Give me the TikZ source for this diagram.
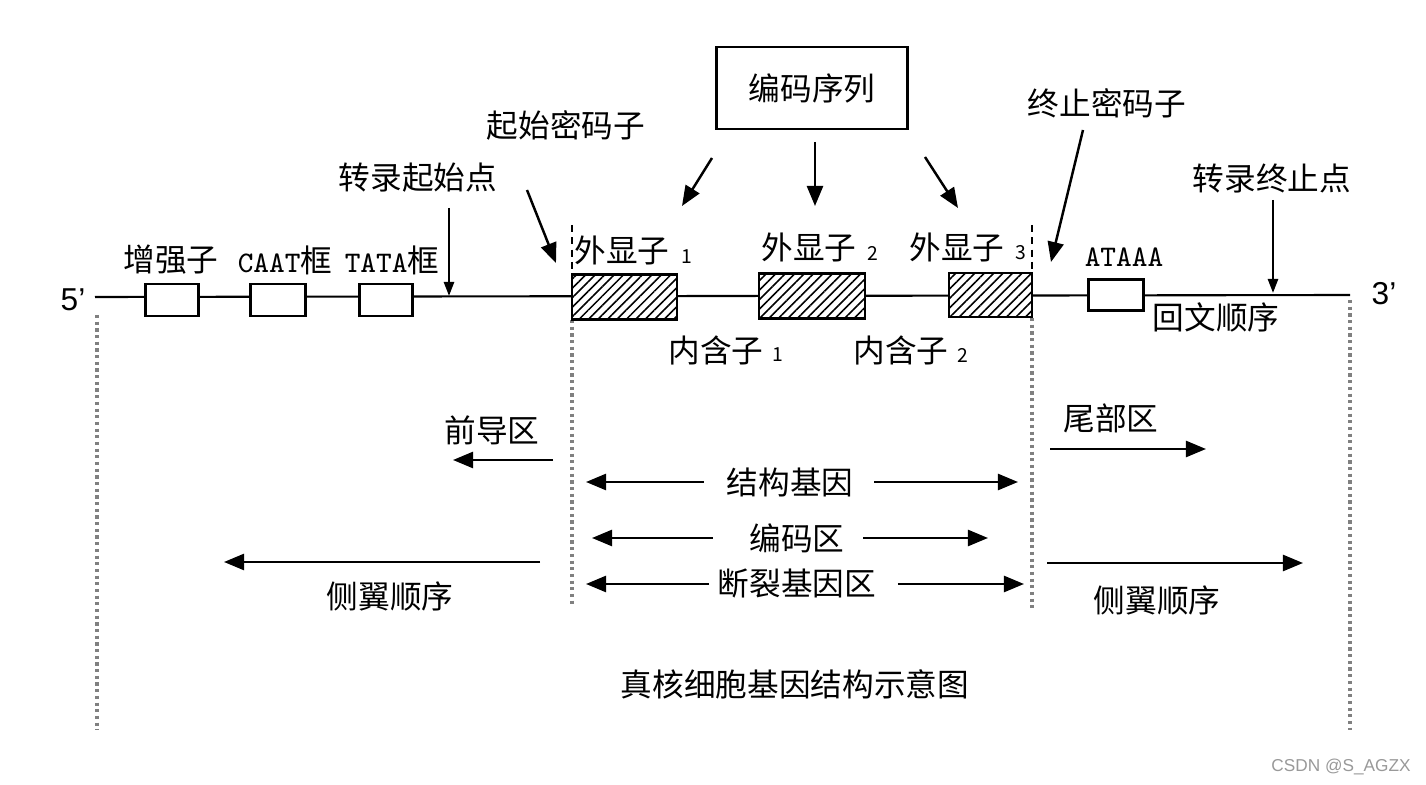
\documentclass[tikz,border=0pt]{standalone}
\usepackage{fontspec}
\newfontfamily\cjk{Noto Sans CJK SC}
\newfontfamily\wmfont{Liberation Sans}
\usetikzlibrary{arrows.meta,patterns.meta}
\newcommand{\monotxt}[1]{{\ttfamily\fontsize{8.5pt}{9pt}\selectfont #1}}
\tikzset{
  lbl/.style={font=\cjk\fontsize{9pt}{10pt}\selectfont, inner sep=0pt},
  subn/.style={font=\cjk\fontsize{5.5pt}{6pt}\selectfont, inner sep=0pt},
  endl/.style={font=\wmfont\fontsize{9pt}{10pt}\selectfont, inner sep=0pt},
  wbox/.style={draw, line width=0.7pt, fill=white, minimum height=0.32cm, inner sep=0pt},
  exon/.style={draw, line width=0.7pt, preaction={fill=white},
    pattern={Lines[angle=45,distance=1.9pt,line width=0.45pt]}, inner sep=0pt},
  arr/.style={-{Triangle[length=0.2cm,width=0.16cm]}, line width=0.7pt},
  sarr/.style={-{Triangle[length=0.14cm,width=0.1cm]}, line width=0.7pt},
  guide/.style={draw=gray, densely dotted, line width=0.9pt},
  guidetop/.style={draw=black, dash pattern=on 2pt off 1.5pt, line width=0.7pt},
  dna/.style={line width=0.6pt},
}
\begin{document}
\begin{tikzpicture}[x=0.01cm,y=-0.01cm]
\useasboundingbox[fill=white] (0,0) rectangle (1426,785);

% guide lines
\draw[guide] (97,315) -- (97,730);
\draw[guide] (1350,300) -- (1350,730);
\draw[guidetop] (572,225) -- (572,275);
\draw[guide] (572,320) -- (572,605);
\draw[guidetop] (1032,225) -- (1032,273);
\draw[guide] (1032,318) -- (1032,610);

% main DNA line
\coordinate (L) at (95,297);
\coordinate (R) at (1350,295);
\draw[dna] (L) -- (R);
\node[endl, anchor=east] (p5) at (86,300) {5’};
\node[endl, anchor=west] (p3) at (1371,294) {3’};

% promoter region boxes
\node[wbox, minimum width=0.53cm] (enh) at (172,300) {};
\node[wbox, minimum width=0.55cm] (caat) at (278,300) {};
\node[wbox, minimum width=0.53cm] (tata) at (386,300) {};
\node[lbl] (enhl) at (171,260) {增强子};
\node[lbl] (caatl) at (285,260) {\monotxt{CAAT}框};
\node[lbl] (tatal) at (392,260) {\monotxt{TATA}框};

% exons
\node[exon, minimum width=1.05cm, minimum height=0.45cm] (e1) at (624.5,297) {};
\node[exon, minimum width=1.06cm, minimum height=0.45cm] (e2) at (812,296) {};
\node[exon, minimum width=0.83cm, minimum height=0.44cm] (e3) at (990.5,295) {};
\node[lbl] (e1l) at (622,250) {外显子};
\node[subn] (e1n) at (687,257) {1};
\node[lbl] (e2l) at (809,247) {外显子};
\node[subn] (e2n) at (873,253) {2};
\node[lbl] (e3l) at (957,247) {外显子};
\node[subn] (e3n) at (1021,253) {3};
\node[lbl] (i1l) at (716,350) {内含子};
\node[subn] (i1n) at (778,355) {1};
\node[lbl] (i2l) at (901,350) {内含子};
\node[subn] (i2n) at (963,355) {2};

% tail box
\node[wbox, minimum width=0.55cm, minimum height=0.31cm] (ataaa) at (1116,295) {};
\node[lbl] (ataaal) at (1124,257) {\monotxt{ATAAA}};
\node[lbl] (palin) at (1216,317) {回文顺序};

% top labels and arrows
\node[lbl] (tss) at (418,178) {转录起始点};
\coordinate (tssA) at (449,208);
\coordinate (tssB) at (449,296);
\draw[sarr] (tssA) -- (tssB);

\node[lbl] (start) at (566,125) {起始密码子};
\coordinate (stA) at (527,190);
\coordinate (stB) at (556,263);
\draw[arr] (stA) -- (stB);

\node[draw, line width=0.8pt, minimum width=1.91cm, minimum height=0.82cm, lbl] (cs) at (812,88) {编码序列};
\coordinate (c1A) at (712,158);
\coordinate (c1B) at (682,206);
\coordinate (c2A) at (815,142);
\coordinate (c2B) at (815,206);
\coordinate (c3A) at (925,157);
\coordinate (c3B) at (958,208);
\draw[arr] (c1A) -- (c1B);
\draw[arr] (c2A) -- (c2B);
\draw[arr] (c3A) -- (c3B);

\node[lbl] (stop) at (1107,103) {终止密码子};
\coordinate (spA) at (1083,130);
\coordinate (spB) at (1051,262);
\draw[arr] (spA) -- (spB);

\node[lbl] (tts) at (1272,178) {转录终止点};
\coordinate (ttsA) at (1273,200);
\coordinate (ttsB) at (1273,293);
\draw[sarr] (ttsA) -- (ttsB);

% lower region
\node[lbl] (lead) at (492,430) {前导区};
\coordinate (ldA) at (553,460);
\coordinate (ldB) at (453,460);
\draw[arr] (ldA) -- (ldB);

\node[lbl] (tail) at (1111,418) {尾部区};
\coordinate (tlA) at (1050,449);
\coordinate (tlB) at (1206,449);
\draw[arr] (tlA) -- (tlB);

\node[lbl] (sg) at (790,482) {结构基因};
\coordinate (sgL) at (586,482);
\coordinate (sgR) at (1018,482);
\draw[arr] ([xshift=-0.22cm]sg.west) -- (sgL);
\draw[arr] ([xshift=0.2cm]sg.east) -- (sgR);

\node[lbl] (cr) at (797,538) {编码区};
\coordinate (crL) at (592,538);
\coordinate (crR) at (988,538);
\draw[arr] ([xshift=-0.36cm]cr.west) -- (crL);
\draw[arr] ([xshift=0.18cm]cr.east) -- (crR);

\node[lbl] (sp) at (797,584) {断裂基因区};
\coordinate (spL) at (586,584);
\coordinate (spR) at (1024,584);
\draw[arr] ([xshift=-0.08cm]sp.west) -- (spL);
\draw[arr] ([xshift=0.21cm]sp.east) -- (spR);

\node[lbl] (flL) at (390,596) {侧翼顺序};
\coordinate (flLA) at (540,562);
\coordinate (flLB) at (224,562);
\draw[arr] (flLA) -- (flLB);

\node[lbl] (flR) at (1157,600) {侧翼顺序};
\coordinate (flRA) at (1047,563);
\coordinate (flRB) at (1303,563);
\draw[arr] (flRA) -- (flRB);

\node[lbl] (title) at (795,684) {真核细胞基因结构示意图};

\node[font=\wmfont\fontsize{4.9pt}{6pt}\selectfont, text=gray!80, inner sep=0pt] (wm) at (1341,767) {CSDN @S\_AGZX};
\end{tikzpicture}
\end{document}
